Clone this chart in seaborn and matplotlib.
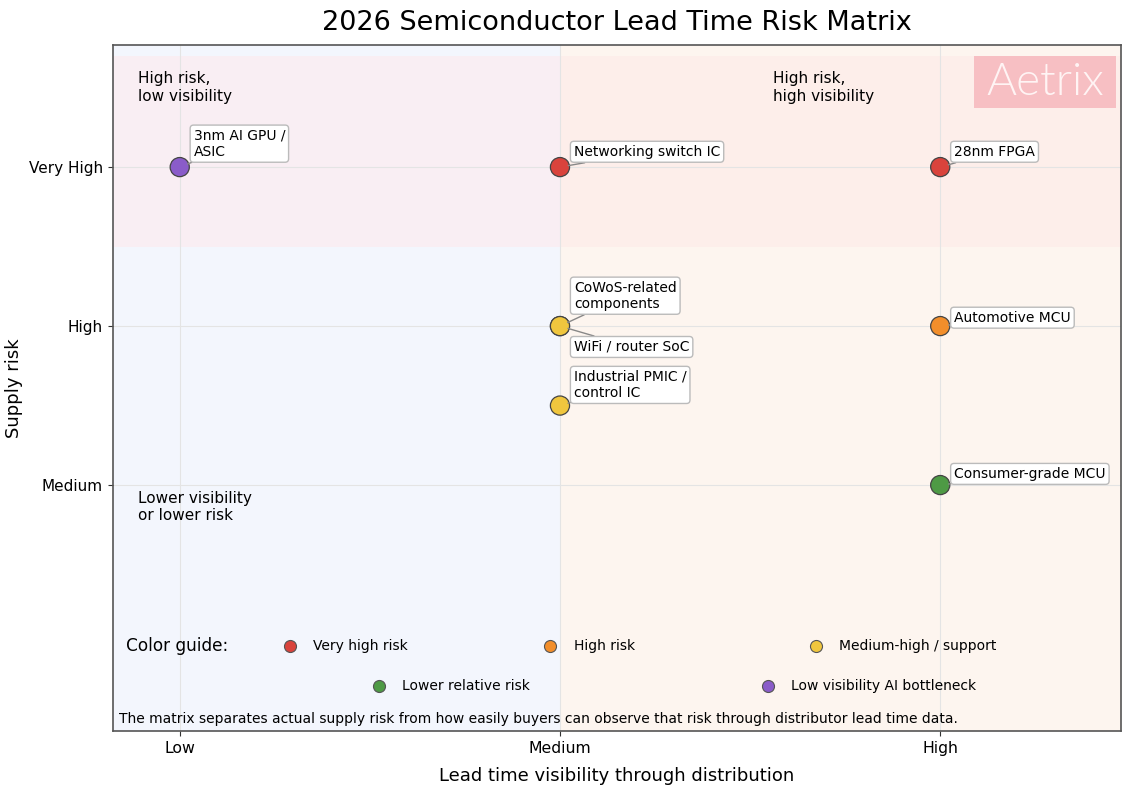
import seaborn as sns
import pandas as pd
import numpy as np
import matplotlib.pyplot as plt
from matplotlib.patches import Rectangle

# --- data ---
components = ['3nm AI GPU /\nASIC', 'Networking switch IC', '28nm FPGA',
              'CoWoS-related\ncomponents', 'WiFi / router SoC', 'Automotive MCU',
              'Industrial PMIC /\ncontrol IC', 'Consumer-grade MCU']
visibility = [0, 1, 2, 1, 1, 2, 1, 2]          # 0=Low, 1=Medium, 2=High
supply_risk = [3, 3, 3, 2, 2, 2, 1.5, 1]       # 1=Medium, 2=High, 3=Very High
risk_group = ['Low visibility AI bottleneck', 'Very high risk', 'Very high risk',
              'Medium-high / support', 'Medium-high / support', 'High risk',
              'Medium-high / support', 'Lower relative risk']
# label offsets in points (dx, dy) and vertical alignment
label_offsets = [(10, 6), (10, 6), (10, 6), (10, 11), (10, -10), (10, 1), (10, 4), (10, 3)]
label_va = ['bottom', 'bottom', 'bottom', 'bottom', 'top', 'bottom', 'bottom', 'bottom']

x_ticks = ['Low', 'Medium', 'High']
y_ticks = ['Medium', 'High', 'Very High']

group_colors = {
    'Very high risk': '#d9433c',
    'High risk': '#f28e2b',
    'Medium-high / support': '#f0c63e',
    'Lower relative risk': '#4e9a45',
    'Low visibility AI bottleneck': '#8a5cc9',
}

df = pd.DataFrame({'component': components, 'visibility': visibility,
                   'risk': supply_risk, 'group': risk_group})

sns.set_theme(style='ticks')
plt.rcParams['font.family'] = ['DejaVu Sans']
plt.rcParams.update({'text.color': 'black', 'axes.labelcolor': 'black',
                     'xtick.color': '#333333', 'ytick.color': '#333333',
                     'xtick.labelcolor': 'black', 'ytick.labelcolor': 'black'})

fig, ax = plt.subplots(figsize=(11.28, 7.92), dpi=100)
fig.subplots_adjust(left=0.1, right=0.994, bottom=0.077, top=0.943)

xmin, xmax = -0.176, 2.476
ymin, ymax = -0.547, 3.767

# background zones
ax.axvspan(xmin, 1, color='#f3f6fd', zorder=0, lw=0)
ax.axvspan(1, xmax, color='#fdf5ef', zorder=0, lw=0)
ax.axhspan(2.5, 3.7, xmax=(1 - xmin) / (xmax - xmin), color='#f9eef3', zorder=0, lw=0)
ax.axhspan(2.5, 3.7, xmin=(1 - xmin) / (xmax - xmin), color='#fdeeea', zorder=0, lw=0)

sns.scatterplot(data=df, x='visibility', y='risk', hue='group', palette=group_colors,
                s=190, edgecolor='#444444', linewidth=0.9, legend=False, zorder=4, ax=ax)

for name, x, y, off, va in zip(components, visibility, supply_risk, label_offsets, label_va):
    ax.annotate(name, (x, y), xytext=off, textcoords='offset points', fontsize=10,
                ha='left', va=va, zorder=5,
                bbox=dict(boxstyle='round,pad=0.25', fc='white', ec='#bbbbbb', lw=1),
                arrowprops=dict(arrowstyle='-', color='#888888', lw=1,
                                shrinkA=0, shrinkB=6))

ax.set_xlim(xmin, xmax)
ax.set_ylim(ymin, ymax)
ax.set_xticks(range(3))
ax.set_xticklabels(x_ticks, fontsize=11.3)
ax.set_yticks([1, 2, 3])
ax.set_yticklabels(y_ticks, fontsize=11)
ax.tick_params(length=3.5, width=0.8, pad=3.5)
ax.grid(True, color='#e4e4e4', lw=0.8, zorder=0.5)
ax.set_axisbelow(True)
for sp in ax.spines.values():
    sp.set_visible(True)
    sp.set_color('#555555')
    sp.set_linewidth(1.2)

ax.set_title('2026 Semiconductor Lead Time Risk Matrix', fontsize=19.5, pad=11)
ax.set_xlabel('Lead time visibility through distribution', fontsize=13, labelpad=8)
ax.set_ylabel('Supply risk', fontsize=13, labelpad=4)

# quadrant notes
ax.text(0.025, 0.962, 'High risk,\nlow visibility', transform=ax.transAxes,
        fontsize=11, va='top', ha='left')
ax.text(0.655, 0.962, 'High risk,\nhigh visibility', transform=ax.transAxes,
        fontsize=11, va='top', ha='left')
ax.text(0.025, 0.35, 'Lower visibility\nor lower risk', transform=ax.transAxes,
        fontsize=11, va='top', ha='left')

# color guide
ax.text(0.013, 0.124, 'Color guide:', transform=ax.transAxes, fontsize=12.2,
        va='center', ha='left')
guide_pos = [('Very high risk', 0.176, 0.124), ('High risk', 0.434, 0.124),
             ('Medium-high / support', 0.697, 0.124),
             ('Lower relative risk', 0.264, 0.066),
             ('Low visibility AI bottleneck', 0.650, 0.066)]
for lab, gx, gy in guide_pos:
    ax.scatter(gx, gy, s=75, color=group_colors[lab], edgecolor='#555555', lw=0.8,
               transform=ax.transAxes, zorder=3, clip_on=False)
    ax.text(gx + 0.023, gy, lab, transform=ax.transAxes, fontsize=10,
            va='center', ha='left')

ax.text(0.006, 0.018, 'The matrix separates actual supply risk from how easily buyers '
        'can observe that risk through distributor lead time data.',
        transform=ax.transAxes, fontsize=10, va='center', ha='left')

# watermark
ax.add_patch(Rectangle((0.854, 0.908), 0.141, 0.076, transform=ax.transAxes,
                       color='#f7bfc3', zorder=6, lw=0))
ax.text(0.9245, 0.946, 'Aetrix', transform=ax.transAxes, fontsize=33,
        family=['Lato', 'DejaVu Sans'], fontweight=300, color='#fff4f4',
        ha='center', va='center', zorder=7)

plt.savefig('out.png', dpi=100)
